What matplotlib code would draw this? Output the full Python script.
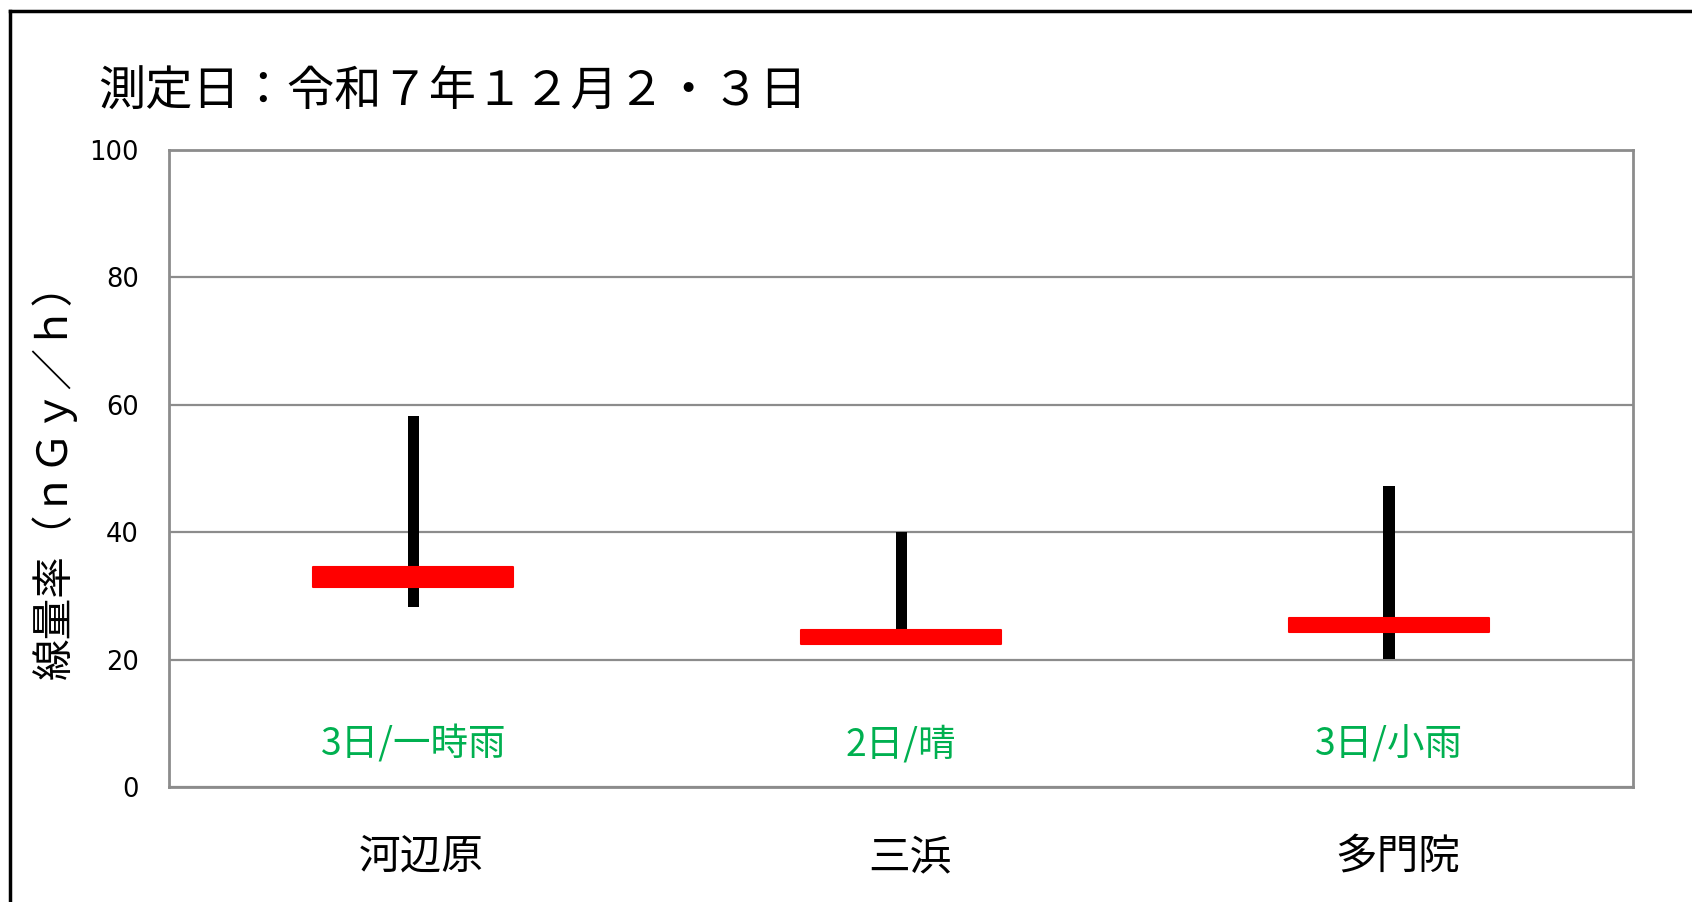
import matplotlib
matplotlib.use("Agg")
import matplotlib.pyplot as plt
from matplotlib.lines import Line2D
from matplotlib.transforms import ScaledTranslation

plt.rcParams['font.family'] = ['Noto Sans CJK JP', 'DejaVu Sans']

title = "測定日：令和７年１２月２・３日"
ylabel = "線量率（ｎＧｙ／ｈ）"
categories = ["河辺原", "三浜", "多門院"]
weather = ["3日/一時雨", "2日/晴", "3日/小雨"]
range_min = [28.2, 24.0, 20.1]
range_max = [58.3, 40.0, 47.2]
red_low = [31.4, 22.4, 24.4]
red_high = [34.6, 24.6, 26.6]
yticks = [0, 20, 40, 60, 80, 100]

fig = plt.figure(figsize=(16.92, 9.02), dpi=100)
ax = fig.add_axes([0.1001, 0.1275, 0.8650, 0.7062])

x = list(range(len(categories)))
ax.bar(x, [h - l for h, l in zip(range_max, range_min)], bottom=range_min,
       width=0.023, color='black', zorder=3)
ax.bar(x, [h - l for h, l in zip(red_high, red_low)], bottom=red_low,
       width=0.41, color='#FF0000', edgecolor='#FF0000', linewidth=1.5,
       joinstyle='round', zorder=4)

for xi, w in zip(x, weather):
    ax.text(xi, 6.6, w, color='#00B050', fontsize=27, ha='center', va='center',
            family=['Noto Sans CJK JP', 'DejaVu Sans'])

ax.set_xlim(-0.5, 2.5)
ax.set_ylim(0, 100)
ax.set_yticks(yticks)
ax.set_yticklabels([str(v) for v in yticks], fontsize=18.5, family='DejaVu Sans')
ax.set_xticks(x)
ax.set_xticklabels(categories, fontsize=30)
ax.tick_params(axis='y', length=0, pad=22)
ax.tick_params(axis='x', length=0, pad=36)
offset = ScaledTranslation(6/72, 0, fig.dpi_scale_trans)
for lbl in ax.get_xticklabels():
    lbl.set_transform(lbl.get_transform() + offset)
ax.yaxis.grid(True, color='#8C8C8C', linewidth=1.6, zorder=0)
ax.set_axisbelow(True)
for s in ax.spines.values():
    s.set_color('#8C8C8C')
    s.set_linewidth(2.0)

fig.text(0.032, 0.478, ylabel, rotation=90, fontsize=30, ha='center', va='center')
fig.text(0.058, 0.897, title, fontsize=34, ha='left', va='center')

# outer frame (left and top edges)
fig.add_artist(Line2D([10/1692, 10/1692], [-0.1, 891/902], color='black', linewidth=2.5,
                      transform=fig.transFigure))
fig.add_artist(Line2D([10/1692, 1.1], [891/902, 891/902], color='black', linewidth=2.5,
                      transform=fig.transFigure))

fig.savefig("out.png", dpi=100, facecolor='white')
